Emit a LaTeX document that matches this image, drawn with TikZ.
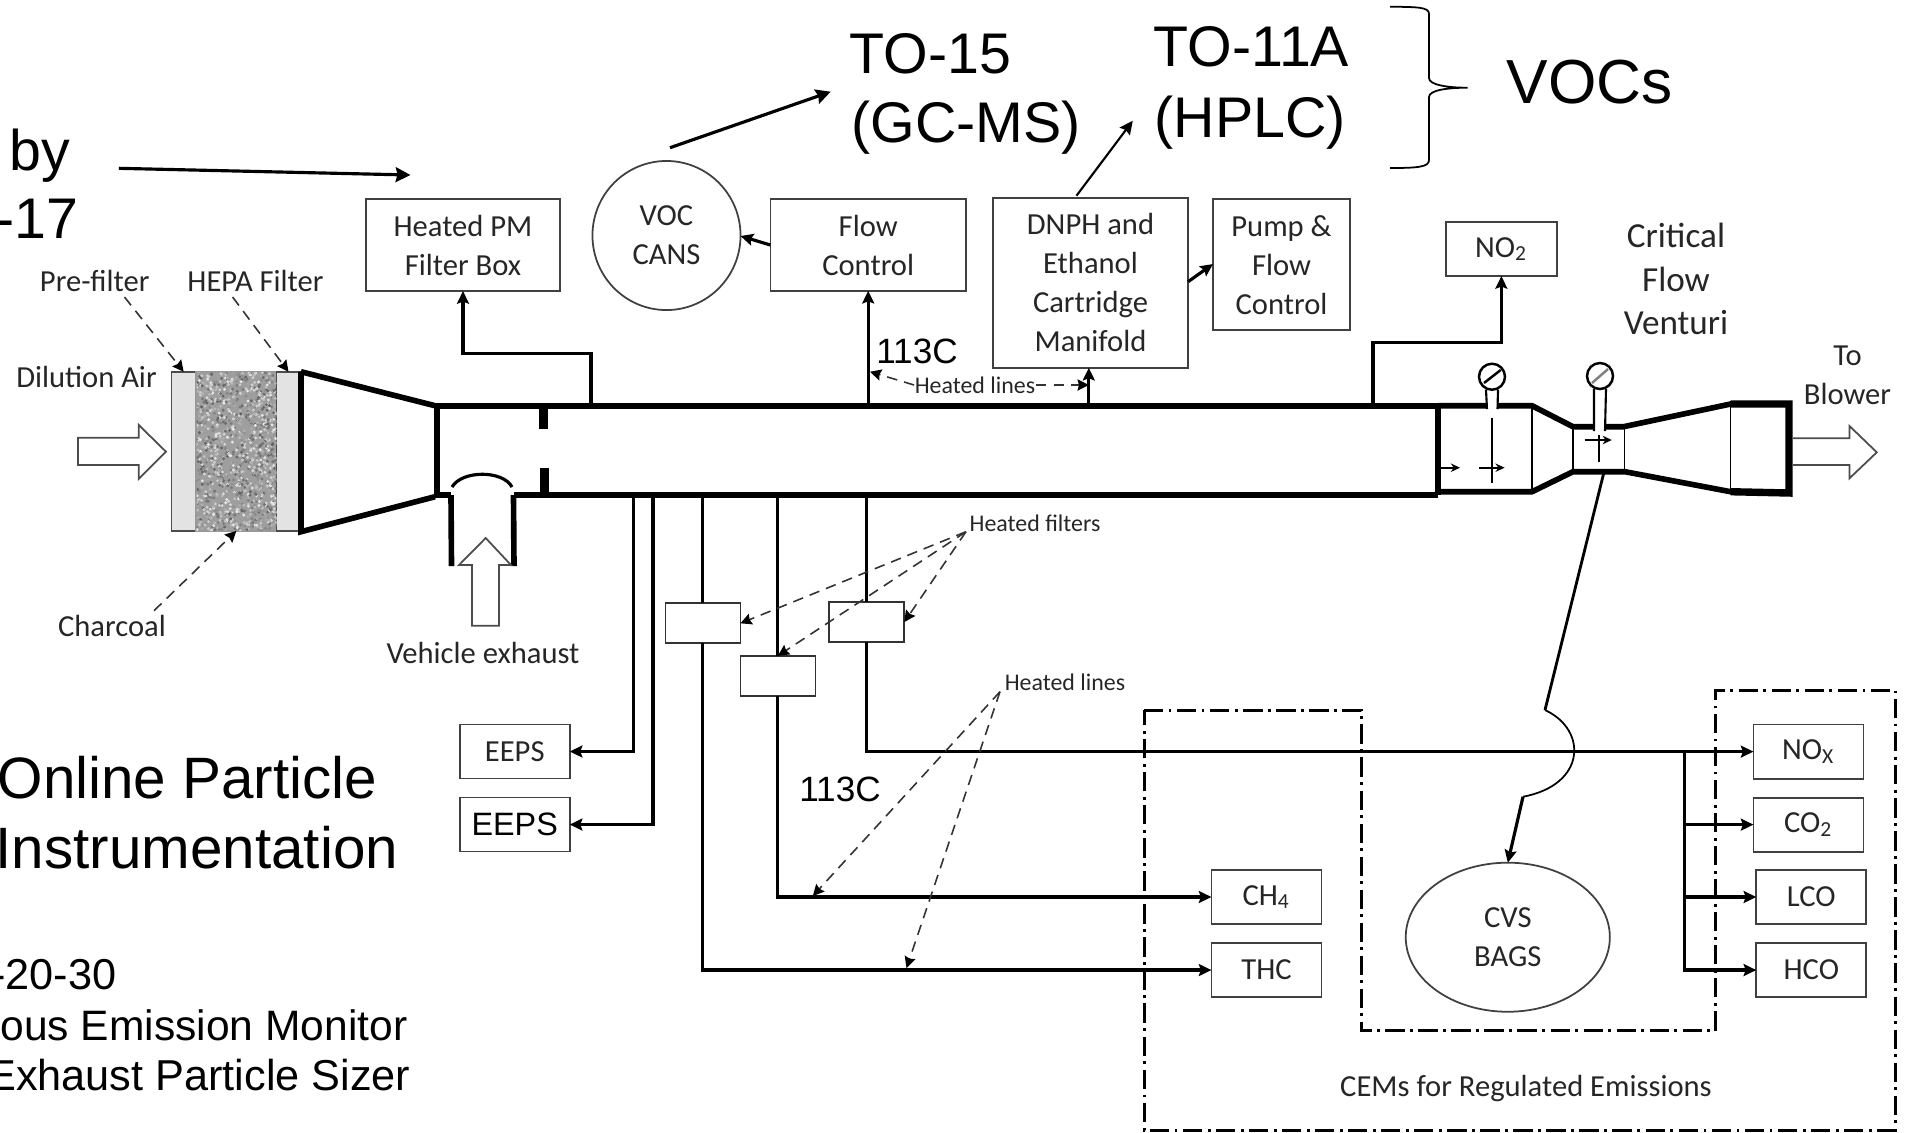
\documentclass[tikz,border=0pt]{standalone}
\usepackage{fontspec}
\setmainfont{Carlito}
\newfontfamily\arialfont{Liberation Sans}
\usetikzlibrary{arrows.meta,positioning,shapes.geometric}

\begin{document}
\begin{tikzpicture}[
    x=0.01cm,
    y=-0.01cm,
    node distance=0.19cm,
    instbox/.style={
        rectangle,
        draw=black!75,
        fill=white,
        line width=0.5pt,
        outer sep=0pt,
        minimum width=1.10cm,
        minimum height=0.54cm,
        align=center,
        text=black!85,
        font=\fontsize{8.7}{11.1}\selectfont
    },
    heatbox/.style={
        rectangle,
        draw=black!80,
        fill=white,
        line width=0.5pt,
        outer sep=0pt,
        minimum width=0.75cm,
        minimum height=0.40cm
    },
    vessel/.style={
        ellipse,
        draw=black!75,
        fill=white,
        line width=0.5pt,
        outer sep=0pt,
        inner sep=0pt,
        align=center,
        text=black!85,
        font=\fontsize{8.7}{11.1}\selectfont
    },
    filterbox/.style={
        rectangle,
        draw=black!70,
        fill=black!11,
        line width=0.5pt,
        outer sep=0pt,
        minimum height=1.59cm
    },
    gauge/.style={
        circle,
        draw=black,
        fill=white,
        line width=0.7pt,
        inner sep=0pt,
        minimum size=0.26cm
    },
    notelabel/.style={
        inner sep=0pt,
        align=center,
        text=black!85,
        font=\fontsize{8.7}{11.1}\selectfont
    },
    smalllabel/.style={
        inner sep=0pt,
        text=black!85,
        font=\fontsize{6.8}{9}\selectfont
    },
    bigtext/.style={
        inner sep=0pt,
        anchor=base west,
        font=\arialfont\fontsize{16.3}{20}\selectfont
    },
    onlinetext/.style={
        inner sep=0pt,
        anchor=base west,
        font=\arialfont\fontsize{16.6}{20}\selectfont
    },
    midtext/.style={
        inner sep=0pt,
        anchor=base,
        font=\arialfont\fontsize{10}{12}\selectfont
    },
    keytext/.style={
        inner sep=0pt,
        anchor=base east,
        font=\arialfont\fontsize{12.3}{15}\selectfont
    },
    flowarrow/.style={line width=0.9pt,-{Stealth[length=3.6pt,width=3.4pt,inset=0.6pt]}},
    bigarrow/.style={line width=0.9pt,-{Stealth[length=4.2pt,width=4.2pt,inset=0.5pt]}},
    hintarrow/.style={line width=0.45pt,densely dashed,black!80,-{Stealth[length=3.2pt,width=3.2pt,inset=0.4pt,black]}},
    tubewall/.style={line width=1.6pt,line join=miter},
    dashframe/.style={line width=0.85pt,dash pattern=on 5.5pt off 1.5pt on 0.8pt off 1.6pt},
    hollowarrow/.style={draw=black!70,line width=0.5pt,fill=white}
]
\useasboundingbox (0,0) rectangle (1911,1132);

\node (prefilter) [filterbox,minimum width=0.246cm] at (183.7,451.3) {};
\node (charcoal) [filterbox,fill=black!38,draw=black!40,minimum width=0.81cm] at (236.4,451.3) {};
\node (hepa) [filterbox,minimum width=0.24cm] at (288.5,451.3) {};
\begin{scope}
\clip (196.5,372.5) rectangle (276.5,530.5);
\pgfmathsetseed{41}
\foreach \i in {1,...,1300}{
    \pgfmathsetmacro\px{196+81*rnd}
    \pgfmathsetmacro\py{372+159*rnd}
    \pgfmathtruncatemacro\shade{8+55*rnd}
    \fill [black!\shade] (\px,\py) circle [radius=0.016cm];
}
\end{scope}

\draw [tubewall] (301,371.7) -- (301,531.7) -- (435,496.7);
\draw [tubewall] (301,371.7) -- (435,405.7);
\draw [tubewall] (434,405.7) -- (1438,405.7);
\draw [tubewall] (436.7,405.7) -- (436.7,495);
\draw [tubewall] (434,495) -- (451,495);
\draw [tubewall] (513.5,495) -- (1438,495);
\draw [tubewall] (1438,405.7) -- (1438,495);
\draw [tubewall] (451,495) -- (451.5,566);
\draw [tubewall] (513.5,495) -- (514,566);
\draw [line width=2.5pt] (543.7,408) -- (543.7,429);
\draw [line width=2.5pt] (544.5,467.7) -- (544.5,493);
\draw [line width=0.9pt] (452,487) .. controls (462,470) and (503,470) .. (512,487);

\draw [tubewall] (1438,405.7) -- (1532,405.7) -- (1573,426.7) -- (1623.5,426.7) -- (1730.6,404) -- (1789,404) -- (1789,493) -- (1730.6,491.7) -- (1625,471.7) -- (1573,471.7) -- (1532,491.7) -- (1438,491.7);
\draw [line width=2.1pt] (1730.6,404) -- (1789,404) -- (1789,493) -- (1730.6,491.7);
\draw [line width=0.5pt] (1532,405.7) -- (1532,491.7);
\draw [line width=0.5pt] (1573,426.7) -- (1573,471.7);
\draw [line width=0.5pt] (1624.5,426.7) -- (1624.5,471.7);
\draw [line width=0.5pt] (1730.6,404) -- (1730.6,491.7);
\fill [white] (1487.5,400) rectangle (1497,409);
\fill [white] (1594.5,420) rectangle (1604.5,431);
\node (gaugeA) [gauge] at (1492,376.7) {};
\node (gaugeB) [gauge] at (1600,376) {};
\draw [line width=0.6pt] (gaugeA.-115) -- (1487,409);
\draw [line width=0.6pt] (gaugeA.-65) -- (1497.5,409);
\draw [line width=0.6pt] (gaugeB.-115) -- (1594,431);
\draw [line width=0.6pt] (gaugeB.-65) -- (1605,431);
\draw [line width=0.7pt] (1484,383) -- (1500.7,370);
\draw [line width=0.7pt,black!50] (1592,383) -- (1608,369);
\draw [line width=0.6pt] (1492,418) -- (1492,482.7);
\draw [line width=0.6pt,-{Stealth[length=2.6pt,width=2.4pt]}] (1479,467.7) -- (1504.6,467.7);
\draw [line width=0.6pt,-{Stealth[length=2.6pt,width=2.4pt]}] (1440,467.7) -- (1460,467.7);
\draw [line width=0.6pt,-{Stealth[length=2.6pt,width=2.4pt]}] (1584.5,440) -- (1611.8,440);
\draw [line width=0.6pt] (1599,435) -- (1599,461.7);

\draw [hollowarrow] (78,437.7) -- (138.8,437.7) -- (138.8,425) -- (166,451.7) -- (138.8,478.7) -- (138.8,465) -- (78,465) -- cycle;
\draw [hollowarrow] (472,625.7) -- (472,565) -- (459,565) -- (485.7,538) -- (511,565) -- (499,565) -- (499,625.7) -- cycle;
\draw [hollowarrow,fill=none] (1793,438.3) -- (1849.5,438.3) -- (1849.5,426) -- (1876.8,452.3) -- (1849.5,478.3) -- (1849.5,465) -- (1793,465);

\node (pmbox) [instbox,minimum width=1.94cm,minimum height=0.92cm] at (463,245) {Heated PM\\Filter Box};
\node (voc) [vessel,minimum width=1.48cm,minimum height=1.49cm] at (666.5,235.5) {VOC\\CANS};
\node (flowctl) [instbox,minimum width=1.955cm,minimum height=0.915cm] at (868.2,245) {Flow\\Control};
\node (dnph) [instbox,minimum width=1.95cm,minimum height=1.70cm] at (1090.5,282.7) {DNPH and\\Ethanol\\Cartridge\\Manifold};
\node (pump) [instbox,minimum width=1.37cm,minimum height=1.307cm] at (1281.5,264.7) {Pump \&\\Flow\\Control};
\node (notwo) [instbox,minimum width=1.11cm] at (1501.4,249) {NO\textsubscript{2}};

\node (eepsa) [instbox] at (514.7,751.5) {EEPS};
\node (eepsb) [instbox,below=of eepsa,font=\arialfont\fontsize{9.2}{11}\selectfont,text=black] {EEPS};
\node (boxa) [heatbox] at (702.9,623.3) {};
\node (boxb) [heatbox] at (777.9,675.8) {};
\node (boxc) [heatbox] at (866.8,622) {};
\node (chfour) [instbox] at (1266.5,897) {CH\textsubscript{4}};
\node (thc) [instbox,below=of chfour] {THC};
\node (cvs) [vessel,minimum width=2.04cm,minimum height=1.49cm] at (1507.8,937.2) {CVS\\BAGS};
\node (nox) [instbox] at (1808.5,751.6) {NO\textsubscript{X}};
\node (cotwo) [instbox,below=of nox] {CO\textsubscript{2}};
\node (lco) [instbox] at (1811.3,897) {LCO};
\node (hco) [instbox,below=of lco] {HCO};

\node (lblpre) [notelabel] at (94.7,280.7) {Pre-filter};
\node (lblhepa) [notelabel] at (255.5,280.7) {HEPA Filter};
\node (lbldil) [notelabel] at (86.5,376.7) {Dilution Air};
\node (lblchar) [notelabel] at (112,626) {Charcoal};
\node (lblveh) [notelabel] at (483,652.7) {Vehicle exhaust};
\node (lblcfv) [notelabel,font=\fontsize{10}{12.4}\selectfont] at (1676,279) {Critical\\Flow\\Venturi};
\node (lblblow) [notelabel] at (1847.5,375.5) {To\\Blower};
\node (lblcem) [notelabel] at (1526,1088) {CEMs for Regulated Emissions};
\node (lblhotup) [smalllabel] at (975,385) {Heated lines};
\node (lblfilt) [smalllabel] at (1035,523) {Heated filters};
\node (lblhotlow) [smalllabel] at (1065,682.7) {Heated lines};

\node (txtby) [bigtext] at (9,170) {by};
\node (txtseventeen) [bigtext] at (-5,238) {-17};
\node (txtfifteen) [bigtext] at (849,73) {TO-15};
\node (txtgc) [bigtext] at (851,142) {(GC-MS)};
\node (txteleven) [bigtext] at (1153,66.7) {TO-11A};
\node (txthplc) [bigtext] at (1154,137) {(HPLC)};
\node (txtvocs) [bigtext,font=\arialfont\fontsize{17.7}{20}\selectfont] at (1506,103) {VOCs};
\node (txtonline) [onlinetext] at (-3,798) {Online Particle};
\node (txtinstr) [onlinetext] at (-5,868) {Instrumentation};
\node (txtnum) [keytext] at (117,989) {-20-30};
\node (txtmon) [keytext,font=\arialfont\fontsize{12.1}{15}\selectfont] at (408,1040) {ous Emission Monitor};
\node (txtsizer) [keytext] at (411,1090.7) {Exhaust Particle Sizer};
\node (tempup) [midtext] at (917,363) {113C};
\node (templow) [midtext] at (840,801.7) {113C};

\coordinate (tappm) at (591,405.7);
\coordinate (tapflow) at (868.2,405.7);
\coordinate (tapdnph) at (1088.8,405.7);
\coordinate (tapnotwo) at (1373,405.7);
\coordinate (tapeepsa) at (633.3,495);
\coordinate (tapeepsb) at (653,495);
\coordinate (tapa) at (702.9,495);
\coordinate (tapb) at (777.9,495);
\coordinate (tapc) at (866.8,495);
\coordinate (noxbranch) at (1684.6,751.6);
\coordinate (throat) at (1604,472);
\coordinate (jumpin) at (1545,710);
\coordinate (jumpout) at (1523,796.7);

\draw [flowarrow] (tappm) -- ++(0,-52.4) -| (pmbox.south);
\draw [flowarrow] (tapflow) -- (flowctl.south);
\draw [flowarrow] (tapdnph) -- (dnph.south -| tapdnph);
\draw [flowarrow] (tapnotwo) -- ++(0,-63) -| (notwo.south);
\draw [flowarrow] (flowctl.west |- 0,245) -- (voc.east |- 0,236);
\draw [flowarrow] (dnph.east |- 0,281.7) -- (pump.west |- 0,264);
\draw [flowarrow] (tapeepsa) |- (eepsa.east);
\draw [flowarrow] (tapeepsb) |- (eepsb.east);
\draw [line width=0.9pt] (tapa) -- (boxa.north);
\draw [line width=0.9pt] (tapb) -- (boxb.north);
\draw [line width=0.9pt] (tapc) -- (boxc.north);
\draw [flowarrow] (boxa.south) |- (thc.west);
\draw [flowarrow] (boxb.south) |- (chfour.west);
\draw [flowarrow] (boxc.south) |- (nox.west);
\draw [flowarrow] (noxbranch) |- (hco.west);
\draw [flowarrow] (noxbranch |- cotwo.west) -- (cotwo.west);
\draw [flowarrow] (noxbranch |- lco.west) -- (lco.west);
\draw [line width=0.8pt] (throat) -- (jumpin);
\draw [line width=0.5pt] (jumpin) .. controls (1588,730) and (1586,785) .. (jumpout);
\draw [flowarrow] (jumpout) -- (cvs.north);

\coordinate (bysrc) at (118.8,168.3);
\coordinate (bytip) at (410.5,175);
\coordinate (fifteensrc) at (670,147.7);
\coordinate (fifteentip) at (830.7,91.7);
\coordinate (eleventip) at (1132.8,120.7);
\draw [bigarrow] (bysrc) -- (bytip);
\draw [bigarrow] (fifteensrc) -- (fifteentip);
\draw [line width=0.6pt,-{Stealth[length=3.8pt,width=3.6pt,inset=0.5pt]}] (dnph.north |- 0,195.7) ++(-14,0) -- (eleventip);

\coordinate (presrc) at (124.5,297);
\coordinate (hepasrc) at (232.6,297);
\coordinate (charsrc) at (154,610.7);
\draw [hintarrow] (presrc) -- (prefilter.north);
\draw [hintarrow] (hepasrc) -- (hepa.north);
\draw [hintarrow] (charsrc) -- (charcoal.south);
\draw [hintarrow] (lblhotup.west) -- (870,371.7);
\draw [hintarrow] (lblhotup.east) -- (tapdnph |- lblhotup.east);
\coordinate (filtsrc) at (966,531.7);
\coordinate (linesrc) at (1000,691.7);
\coordinate (cornerch) at (812.8,896);
\coordinate (cornerthc) at (906.5,968);
\draw [hintarrow] (filtsrc) -- (boxa.east);
\draw [hintarrow] (filtsrc) -- (boxb.north);
\draw [hintarrow] (filtsrc) -- (boxc.east);
\draw [hintarrow] (linesrc) -- (cornerch);
\draw [hintarrow] (linesrc) -- (cornerthc);

\draw [line width=0.5pt] (1390,6.7) .. controls (1418,7) and (1429,7) .. (1429,14) -- (1429,78) .. controls (1429,85) and (1448,87.7) .. (1467.5,87.7) .. controls (1448,87.7) and (1429,90) .. (1429,97) -- (1429,160) .. controls (1429,167) and (1418,168) .. (1390,168);

\draw [dashframe] (1144,710) -- (1361,710) -- (1361,1030.7) -- (1715.6,1030.7) -- (1715.6,690) -- (1895,690) -- (1895,1130) -- (1144,1130) -- cycle;
\end{tikzpicture}
\end{document}
